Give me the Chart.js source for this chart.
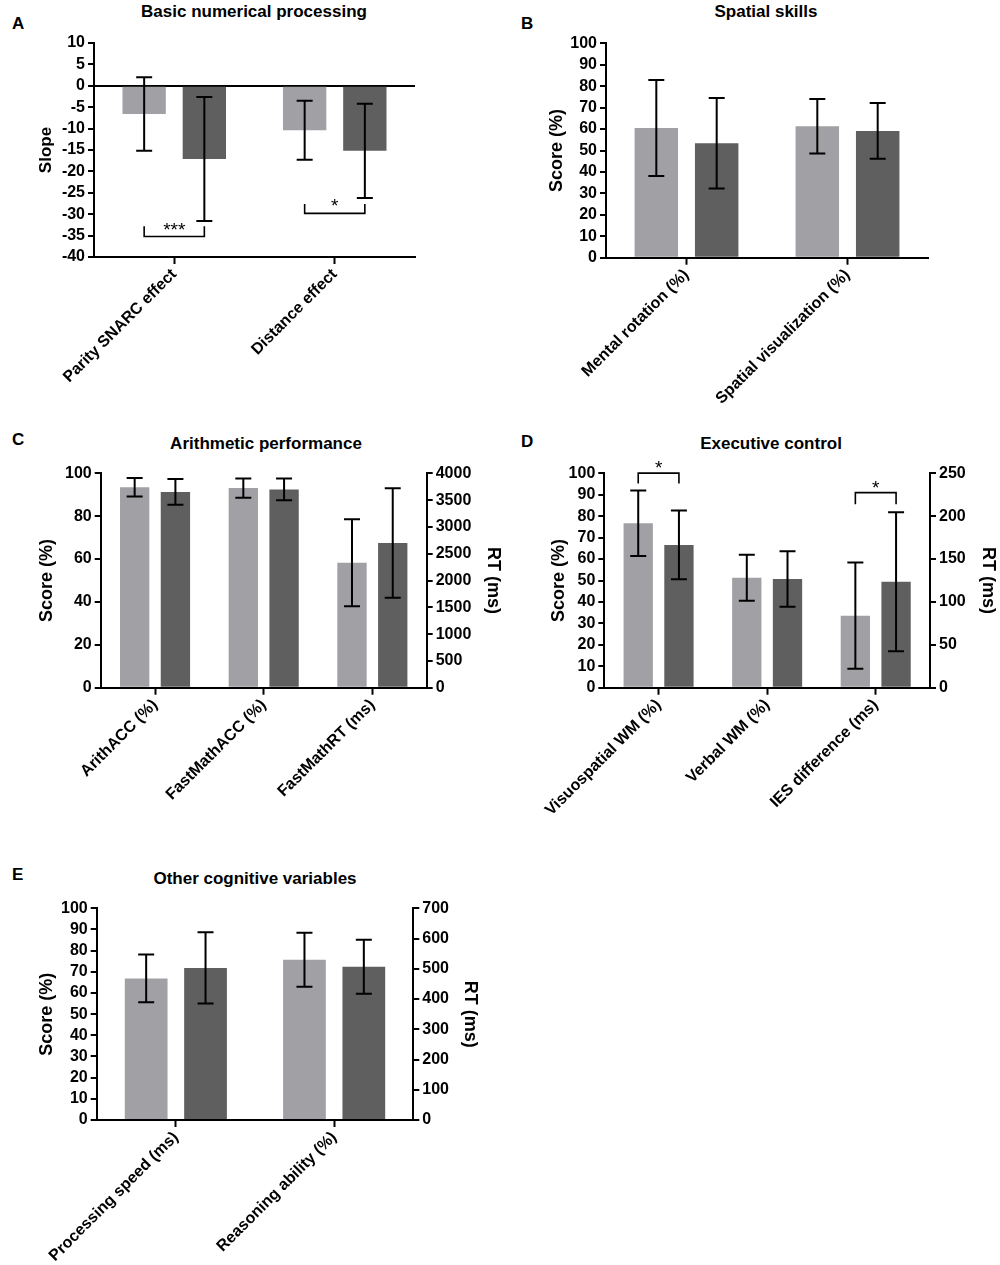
<!DOCTYPE html>
<html><head><meta charset="utf-8">
<script src="https://cdn.jsdelivr.net/npm/chart.js@4.4.0/dist/chart.umd.min.js"></script>
<style>
html,body{margin:0;padding:0;background:#fff;}
body{width:1000px;height:1265px;position:relative;overflow:hidden;font-family:"Liberation Sans",Arial,sans-serif;}
canvas{position:absolute;}
.t{position:absolute;font-weight:bold;font-size:17px;line-height:17px;white-space:nowrap;color:#000;transform:translateX(-50%);}
.l{position:absolute;font-weight:bold;font-size:17px;line-height:17px;color:#000;}
</style></head><body>
<div class="l" style="left:12px;top:15px">A</div>
<div class="t" style="left:254px;top:3px">Basic numerical processing</div>
<div class="l" style="left:521px;top:15px">B</div>
<div class="t" style="left:766px;top:3px">Spatial skills</div>
<div class="l" style="left:12px;top:431px">C</div>
<div class="t" style="left:266px;top:434.5px">Arithmetic performance</div>
<div class="l" style="left:521px;top:433px">D</div>
<div class="t" style="left:771px;top:434.5px">Executive control</div>
<div class="l" style="left:12px;top:866px">E</div>
<div class="t" style="left:255px;top:869.5px">Other cognitive variables</div>
<canvas id="cA"></canvas>
<canvas id="cB"></canvas>
<canvas id="cC"></canvas>
<canvas id="cD"></canvas>
<canvas id="cE"></canvas>
<script>
// ---------------- DATA ----------------
// Panel A: Basic numerical processing (Slope)
const catsA = ['Parity SNARC effect', 'Distance effect'];
const lightA = [-6.6, -10.4];
const lightSdA = [8.6, 6.9];
const darkA = [-17.1, -15.2];
const darkSdA = [14.5, 11.0];
const ticksA = {min: -40, max: 10, step: 5};

// Panel B: Spatial skills (Score %)
const catsB = ['Mental rotation (%)', 'Spatial visualization (%)'];
const lightB = [60.5, 61.3];
const lightSdB = [22.4, 12.7];
const darkB = [53.4, 59.1];
const darkSdB = [21.1, 13.0];
const ticksB = {min: 0, max: 100, step: 10};

// Panel C: Arithmetic performance (Score % left, RT ms right)
const catsC = ['ArithACC (%)', 'FastMathACC (%)', 'FastMathRT (ms)'];
const lightScoreC = [93.5, 93.1, null];
const lightScoreSdC = [4.3, 4.5, null];
const darkScoreC = [91.3, 92.5, null];
const darkScoreSdC = [6.0, 5.1, null];
const lightRtC = [null, null, 2330];
const lightRtSdC = [null, null, 812];
const darkRtC = [null, null, 2700];
const darkRtSdC = [null, null, 1022];
const ticksC = {min: 0, max: 100, step: 20};
const ticksC_rt = {min: 0, max: 4000, step: 500};

// Panel D: Executive control (Score % left, RT ms right)
const catsD = ['Visuospatial WM (%)', 'Verbal WM (%)', 'IES difference (ms)'];
const lightScoreD = [76.7, 51.3, null];
const lightScoreSdD = [15.3, 10.7, null];
const darkScoreD = [66.6, 50.7, null];
const darkScoreSdD = [16.0, 13.0, null];
const lightRtD = [null, null, 84];
const lightRtSdD = [null, null, 62];
const darkRtD = [null, null, 123.5];
const darkRtSdD = [null, null, 81];
const ticksD = {min: 0, max: 100, step: 10};
const ticksD_rt = {min: 0, max: 250, step: 50};

// Panel E: Other cognitive variables (Score % left, RT ms right)
const catsE = ['Processing speed (ms)', 'Reasoning ability (%)'];
const lightScoreE = [null, 75.7];
const lightScoreSdE = [null, 12.7];
const darkScoreE = [null, 72.4];
const darkScoreSdE = [null, 12.8];
const lightRtE = [468, null];
const lightRtSdE = [79, null];
const darkRtE = [503, null];
const darkRtSdE = [118, null];
const ticksE = {min: 0, max: 100, step: 10};
const ticksE_rt = {min: 0, max: 700, step: 100};

// Significance annotations (value-axis units)
const sigA = [
  {cat: 0, from: 0, to: 1, axis: 'y', level: -35.2, tip: -32.8, label: '***', labelAt: -32.6},
  {cat: 1, from: 0, to: 1, axis: 'y', level: -29.8, tip: -27.6, label: '*', labelAt: -27.0}
];
const sigD = [
  {cat: 0, from: 0, to: 1, axis: 'y', level: 100.1, tip: 95.2, label: '*', labelAt: 104.9},
  {cat: 2, from: 2, to: 3, axis: 'y1', level: 227.5, tip: 214, label: '*', labelAt: 239}
];

// ---------------- STYLE / LAYOUT ----------------
const LIGHT = '#a1a1a5';
const DARK = '#5f5f5f';
const FONT = '"Liberation Sans", Arial, sans-serif';
Chart.defaults.font.family = FONT;
Chart.defaults.color = '#000';
const CAP = 8;
const STAR_SIZE = 19;

const errorBars = {
  id: 'errorBars',
  afterDatasetsDraw(chart) {
    const ctx = chart.ctx;
    ctx.save();
    ctx.strokeStyle = '#000';
    ctx.lineWidth = 2;
    ctx.lineCap = 'butt';
    chart.data.datasets.forEach((ds, di) => {
      const meta = chart.getDatasetMeta(di);
      const sc = chart.scales[meta.yAxisID];
      ds.data.forEach((v, i) => {
        const sd = ds.sd ? ds.sd[i] : null;
        if (v == null || sd == null) return;
        const el = meta.data[i];
        if (!el) return;
        const x = el.x;
        const yT = sc.getPixelForValue(v + sd);
        const yB = sc.getPixelForValue(v - sd);
        ctx.beginPath();
        ctx.moveTo(x, yT); ctx.lineTo(x, yB);
        ctx.moveTo(x - CAP, yT); ctx.lineTo(x + CAP, yT);
        ctx.moveTo(x - CAP, yB); ctx.lineTo(x + CAP, yB);
        ctx.stroke();
      });
    });
    ctx.restore();
  }
};

function sigPlugin(items) {
  return {
    id: 'sig',
    afterDatasetsDraw(chart) {
      const ctx = chart.ctx;
      ctx.save();
      ctx.strokeStyle = '#000';
      ctx.lineWidth = 1.6;
      ctx.fillStyle = '#000';
      ctx.font = STAR_SIZE + 'px ' + FONT;
      ctx.textAlign = 'center';
      ctx.textBaseline = 'alphabetic';
      items.forEach(it => {
        const sc = chart.scales[it.axis];
        const x1 = chart.getDatasetMeta(it.from).data[it.cat].x;
        const x2 = chart.getDatasetMeta(it.to).data[it.cat].x;
        const yl = sc.getPixelForValue(it.level);
        const yt = sc.getPixelForValue(it.tip);
        ctx.beginPath();
        ctx.moveTo(x1, yt); ctx.lineTo(x1, yl); ctx.lineTo(x2, yl); ctx.lineTo(x2, yt);
        ctx.stroke();
        const yc = sc.getPixelForValue(it.labelAt);
        ctx.fillText(it.label, (x1 + x2) / 2, yc + 0.57 * STAR_SIZE);
      });
      ctx.restore();
    }
  };
}

function build(id, g, labels, datasets, yOpt, y1Opt, sigItems) {
  const cv = document.getElementById(id);
  cv.width = g.w; cv.height = g.h;
  cv.style.left = g.left + 'px'; cv.style.top = g.top + 'px';
  cv.style.width = g.w + 'px'; cv.style.height = g.h + 'px';
  const titleSize = yOpt.titleSize || 18;
  const off = titleSize * 1.2 / 2 + 4;
  const padL = g.yTitleX - off;
  const yW = g.L - padL;
  let padR, y1W = 0;
  if (y1Opt) {
    const rOff = 18 * 1.2 / 2 + 4;
    const y1Right = g.y1TitleX + rOff;
    y1W = y1Right - g.R;
    padR = g.w - y1Right;
  } else {
    padR = g.w - g.R;
  }
  const xH = g.h - g.B;
  const tickFont = {size: 16, weight: 'bold', family: FONT};
  const scales = {
    x: {
      offset: true,
      grid: {display: true, drawOnChartArea: false, offset: false, tickLength: 7, tickWidth: 2, tickColor: '#000', color: '#000'},
      border: {display: true, color: '#000', width: 2},
      ticks: {autoSkip: false, maxRotation: 45, minRotation: 45, padding: 1, font: tickFont, color: '#000'},
      afterFit: s => { s.height = xH; }
    },
    y: {
      position: 'left',
      min: yOpt.min, max: yOpt.max,
      ticks: {stepSize: yOpt.step, autoSkip: false, callback: v => String(v), font: tickFont, padding: 3, color: '#000'},
      grid: {
        drawOnChartArea: !!yOpt.zeroLine,
        color: c => (yOpt.zeroLine && c.tick && c.tick.value === 0) ? '#000' : 'rgba(0,0,0,0)',
        lineWidth: 2, tickLength: 6, tickWidth: 2, tickColor: '#000'
      },
      border: {display: true, color: '#000', width: 2},
      title: {display: true, text: yOpt.title, font: {size: titleSize, weight: 'bold', family: FONT}, padding: {top: 4, bottom: 0}, color: '#000'},
      afterFit: s => { s.width = yW; }
    }
  };
  if (y1Opt) {
    scales.y1 = {
      position: 'right',
      min: y1Opt.min, max: y1Opt.max,
      ticks: {stepSize: y1Opt.step, autoSkip: false, callback: v => String(v), font: tickFont, padding: 3, color: '#000'},
      grid: {drawOnChartArea: false, color: '#000', lineWidth: 2, tickLength: 6, tickWidth: 2, tickColor: '#000'},
      border: {display: true, color: '#000', width: 2},
      title: {display: true, text: y1Opt.title, font: {size: 18, weight: 'bold', family: FONT}, padding: {top: 4, bottom: 0}, color: '#000'},
      afterFit: s => { s.width = y1W; }
    };
  }
  const plugins = [errorBars];
  if (sigItems) plugins.push(sigPlugin(sigItems));
  return new Chart(cv, {
    type: 'bar',
    data: {
      labels: labels,
      datasets: datasets.map(d => Object.assign({
        categoryPercentage: 0.75, barPercentage: 0.72, skipNull: true, borderWidth: 0
      }, d))
    },
    options: {
      responsive: false, animation: false, devicePixelRatio: 1,
      layout: {padding: {left: padL, right: padR, top: g.T, bottom: 0}},
      plugins: {legend: {display: false}, tooltip: {enabled: false}, title: {display: false}},
      scales: scales
    },
    plugins: plugins
  });
}

// Panel A
build('cA', {left: 0, top: 0, w: 500, h: 420, L: 94, R: 415, T: 43, B: 257, yTitleX: 46},
  catsA,
  [
    {data: lightA, sd: lightSdA, backgroundColor: LIGHT},
    {data: darkA, sd: darkSdA, backgroundColor: DARK}
  ],
  {min: ticksA.min, max: ticksA.max, step: ticksA.step, title: 'Slope', titleSize: 17, zeroLine: true},
  null, sigA);

// Panel B
build('cB', {left: 500, top: 0, w: 500, h: 420, L: 106, R: 428, T: 43.3, B: 257.7, yTitleX: 57},
  catsB,
  [
    {data: lightB, sd: lightSdB, backgroundColor: LIGHT},
    {data: darkB, sd: darkSdB, backgroundColor: DARK}
  ],
  {min: ticksB.min, max: ticksB.max, step: ticksB.step, title: 'Score (%)'},
  null, null);

// Panel C
build('cC', {left: 0, top: 420, w: 520, h: 440, L: 100.7, R: 426.7, T: 53.3, B: 267.7, yTitleX: 47, y1TitleX: 492.7},
  catsC,
  [
    {data: lightScoreC, sd: lightScoreSdC, backgroundColor: LIGHT, yAxisID: 'y'},
    {data: darkScoreC, sd: darkScoreSdC, backgroundColor: DARK, yAxisID: 'y'},
    {data: lightRtC, sd: lightRtSdC, backgroundColor: LIGHT, yAxisID: 'y1'},
    {data: darkRtC, sd: darkRtSdC, backgroundColor: DARK, yAxisID: 'y1'}
  ],
  {min: ticksC.min, max: ticksC.max, step: ticksC.step, title: 'Score (%)'},
  {min: ticksC_rt.min, max: ticksC_rt.max, step: ticksC_rt.step, title: 'RT (ms)'}, null);

// Panel D
build('cD', {left: 500, top: 420, w: 510, h: 440, L: 104.3, R: 430, T: 53.3, B: 267.7, yTitleX: 59, y1TitleX: 488},
  catsD,
  [
    {data: lightScoreD, sd: lightScoreSdD, backgroundColor: LIGHT, yAxisID: 'y'},
    {data: darkScoreD, sd: darkScoreSdD, backgroundColor: DARK, yAxisID: 'y'},
    {data: lightRtD, sd: lightRtSdD, backgroundColor: LIGHT, yAxisID: 'y1'},
    {data: darkRtD, sd: darkRtSdD, backgroundColor: DARK, yAxisID: 'y1'}
  ],
  {min: ticksD.min, max: ticksD.max, step: ticksD.step, title: 'Score (%)'},
  {min: ticksD_rt.min, max: ticksD_rt.max, step: ticksD_rt.step, title: 'RT (ms)'}, sigD);

// Panel E
build('cE', {left: 0, top: 860, w: 500, h: 405, L: 96.7, R: 413.3, T: 48.3, B: 260, yTitleX: 46.7, y1TitleX: 470},
  catsE,
  [
    {data: lightScoreE, sd: lightScoreSdE, backgroundColor: LIGHT, yAxisID: 'y'},
    {data: darkScoreE, sd: darkScoreSdE, backgroundColor: DARK, yAxisID: 'y'},
    {data: lightRtE, sd: lightRtSdE, backgroundColor: LIGHT, yAxisID: 'y1'},
    {data: darkRtE, sd: darkRtSdE, backgroundColor: DARK, yAxisID: 'y1'}
  ],
  {min: ticksE.min, max: ticksE.max, step: ticksE.step, title: 'Score (%)'},
  {min: ticksE_rt.min, max: ticksE_rt.max, step: ticksE_rt.step, title: 'RT (ms)'}, null);
</script>
</body></html>
